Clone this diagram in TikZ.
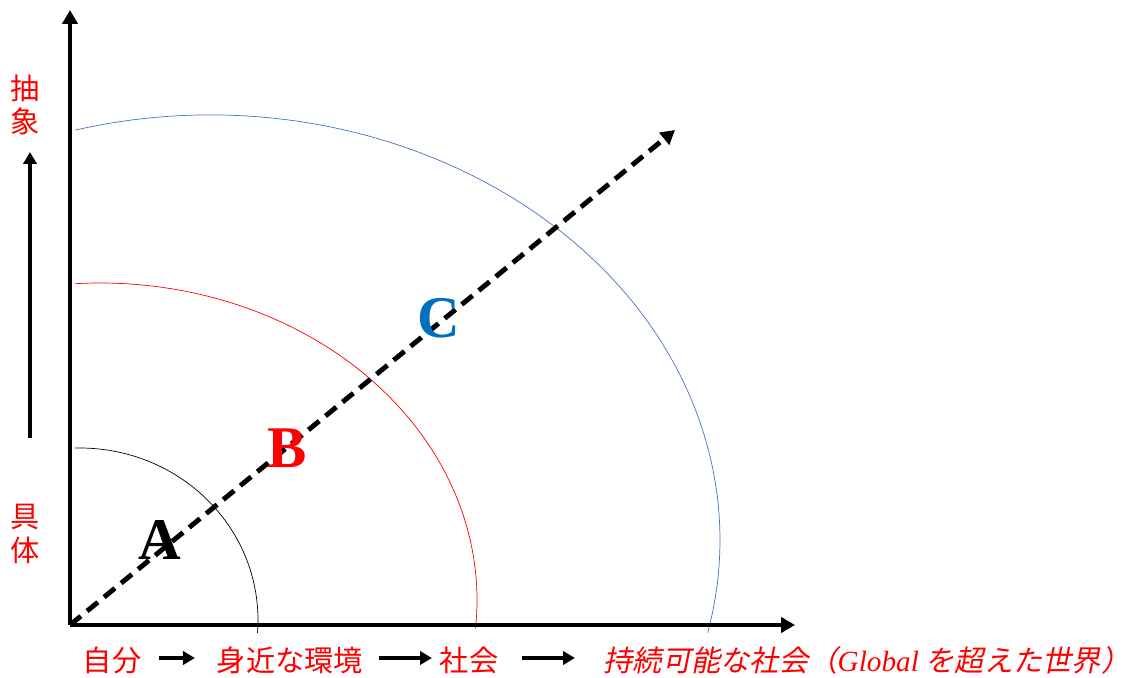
\documentclass[tikz,border=0pt]{standalone}
\usepackage{fontspec}
\setmainfont{Liberation Serif}
\newfontfamily\jpfont{Noto Sans CJK JP}
\newfontfamily\jpitfont[FakeSlant=0.2]{Noto Sans CJK JP}
\usetikzlibrary{arrows.meta}
\definecolor{arcblue}{RGB}{68,114,196}
\definecolor{letterblue}{RGB}{0,112,192}

\begin{document}
\begin{tikzpicture}[x=0.025cm, y=0.025cm,
  axis/.style={line width=3.5pt, -{Triangle[length=0.35cm, width=0.38cm]}},
  steparrow/.style={line width=3pt, -{Triangle[length=0.3cm, width=0.33cm]}},
  jplabel/.style={text=red, font=\jpfont\fontsize{20.8}{24}\selectfont, inner sep=0pt, align=center},
  bigletter/.style={font=\bfseries\fontsize{42}{48}\selectfont, inner sep=0pt}]
  \useasboundingbox (0,0) rectangle (1136,677);
  % corner points
  \coordinate (O) at (70,52);
  \coordinate (ytop) at (70,667);
  \coordinate (xend) at (795,52);
  \coordinate (dend) at (675,547);
  % centres of the three arcs
  \coordinate (ca) at (80,57);
  \coordinate (cb) at (100,77);
  \coordinate (cc) at (210,137);
  \draw[line width=0.5pt] ([shift={(91.6:178 and 172)}]ca)
    arc[start angle=91.6, end angle=-4.3, x radius=178, y radius=172];
  \draw[red, line width=0.5pt] ([shift={(93.8:377 and 317)}]cb)
    arc[start angle=93.8, end angle=-5.1, x radius=377, y radius=317];
  \draw[arcblue, line width=0.5pt] ([shift={(105.3:510 and 425)}]cc)
    arc[start angle=105.3, end angle=-12.6, x radius=510, y radius=425];
  % axes
  \draw[axis] (O) -- (ytop);
  \draw[axis] (O) -- (xend);
  \draw[axis, dash pattern=on 0.35cm off 0.2cm] (O) -- (dend);
  % levels
  \node[bigletter] (la) at (160,137) {A};
  \node[bigletter, red] (lb) at (287,229) {B};
  \node[bigletter, letterblue] (lc) at (439,359) {C};
  % left side: concrete -> abstract
  \node[jplabel] (chusho) at (25,572) {抽\\象};
  \node[jplabel] (gutai) at (25,143) {具\\体};
  \coordinate (up0) at (30,239);
  \coordinate (up1) at (30,525);
  \draw[steparrow] (up0) -- (up1);
  % bottom: self -> world
  \node[jplabel] (jibun) at (112,17) {自分};
  \node[jplabel] (mijika) at (290,17) {身近な環境};
  \node[jplabel] (shakai) at (469,17) {社会};
  \node[jplabel, font=\jpitfont\fontsize{20.8}{24}\selectfont] (jizoku) at (867,17)
    {持続可能な社会（{\rmfamily\itshape Global} を超えた世界）};
  \foreach \a/\b/\n in {159/195/1, 379/432/2, 522/575/3}{
    \coordinate (s\n) at (\a,19);
    \coordinate (e\n) at (\b,19);
    \draw[steparrow] (s\n) -- (e\n);
  }
\end{tikzpicture}
\end{document}
